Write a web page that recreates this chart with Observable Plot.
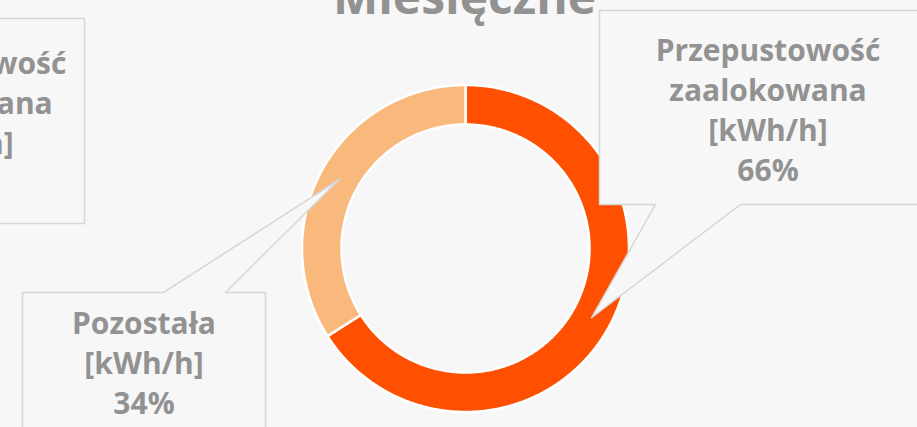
<!DOCTYPE html>
<html><head><meta charset="utf-8">
<script src="https://cdn.jsdelivr.net/npm/d3@7"></script>
<script src="https://cdn.jsdelivr.net/npm/@observablehq/plot@0.6"></script>
<style>
html,body{margin:0;padding:0;background:#f7f7f7;overflow:hidden;}
svg{overflow:hidden;display:block;}
</style></head><body><div id="chart"></div>
<script>
// ---- data ----
const title = "Miesięczne";
const categories = ["Przepustowość zaalokowana [kWh/h]", "Pozostała [kWh/h]"];
const labelLines = [["Przepustowość", "zaalokowana", "[kWh/h]"], ["Pozostała", "[kWh/h]"]];
const shares = [66, 34];
const colors = ["#fe5000", "#f9b97d"];
const neighbourLines = ["Przepustowość", "zaalokowana", "[kWh/h]"]; // clipped label of neighbouring chart

// ---- layout ----
const W = 917, H = 427;
const CX = 465, CY = 248, RO = 163.5, RI = 124;
const FONT = "Open Sans, Lato, sans-serif";
const FS = 30, LH = 40;
const GRAY = "#929292";

const rows = categories.map((c, i) => ({cat: c, value: shares[i], lines: labelLines[i]}));
const arcs = d3.pie().sort(null).value(d => d.value).startAngle(0).endAngle(2 * Math.PI)(rows);
const pt = (a, r) => [CX + r * Math.sin(a), CY - r * Math.cos(a)];

const slicePts = [];
arcs.forEach(a => {
  const n = Math.max(8, Math.ceil((a.endAngle - a.startAngle) / 0.01));
  for (let k = 0; k <= n; k++) {
    const t = a.startAngle + (a.endAngle - a.startAngle) * k / n;
    const [x, y] = pt(t, RO); slicePts.push({cat: a.data.cat, x, y});
  }
  for (let k = n; k >= 0; k--) {
    const t = a.startAngle + (a.endAngle - a.startAngle) * k / n;
    const [x, y] = pt(t, RI); slicePts.push({cat: a.data.cat, x, y});
  }
});

// callout boxes (layout) – tips computed from slice mid-angles
const boxes = [
  {x0: 599, y0: 10, x1: 940, y1: 204, edge: "bottom", b0: 655, b1: 740, tx: 767.5, ty: 180},
  {x0: 22, y0: 292, x1: 265, y1: 450, edge: "top", b0: 163, b1: 225, tx: 143.5, ty: 413}
];
const calloutPts = [];
const labelRows = [];
arcs.forEach((a, i) => {
  const b = boxes[i];
  const mid = (a.startAngle + a.endAngle) / 2;
  const [tx, ty] = pt(mid, (RO + RI) / 2);
  let poly;
  if (b.edge === "bottom") {
    poly = [[b.x0, b.y0], [b.x1, b.y0], [b.x1, b.y1], [b.b1, b.y1], [tx, ty], [b.b0, b.y1], [b.x0, b.y1]];
  } else {
    poly = [[b.x0, b.y0], [b.b0, b.y0], [tx, ty], [b.b1, b.y0], [b.x1, b.y0], [b.x1, b.y1], [b.x0, b.y1]];
  }
  poly.forEach(([x, y]) => calloutPts.push({id: "c" + i, x, y}));
  labelRows.push({x: b.tx, y: b.ty, text: [...a.data.lines, `${a.data.value}%`].join("\n")});
});
// neighbouring chart's clipped callout box
[[-120, 18], [84, 18], [84, 223], [-120, 223]].forEach(([x, y]) => calloutPts.push({id: "n", x, y}));
labelRows.push({x: -46.5, y: 153, text: neighbourLines.join("\n")});

const chart = Plot.plot({
  width: W, height: H,
  margin: 0,
  x: {domain: [0, W], range: [0, W], axis: null},
  y: {domain: [0, H], range: [0, H], axis: null},
  color: {domain: categories, range: colors},
  style: {background: "#f7f7f7", overflow: "hidden"},
  marks: [
    Plot.text([title], {x: () => CX - 1, y: () => 13, text: d => d, fontSize: 48, fontWeight: "bold",
      fontFamily: FONT, fill: GRAY, textAnchor: "middle", lineAnchor: "bottom"}),
    Plot.line(slicePts, {x: "x", y: "y", z: "cat", fill: "cat", stroke: "#ffffff", strokeWidth: 2.5, curve: "linear-closed"}),
    Plot.line(calloutPts, {x: "x", y: "y", z: "id", fill: "#f7f7f7", stroke: "#d6d6d6", strokeWidth: 1.5, curve: "linear-closed"}),
    Plot.text(labelRows, {x: "x", y: "y", text: "text", fontSize: FS, fontWeight: "bold", fontFamily: FONT,
      fill: GRAY, textAnchor: "middle", lineAnchor: "bottom", lineHeight: LH / FS})
  ]
});
document.getElementById("chart").append(chart);
</script>
</body></html>
